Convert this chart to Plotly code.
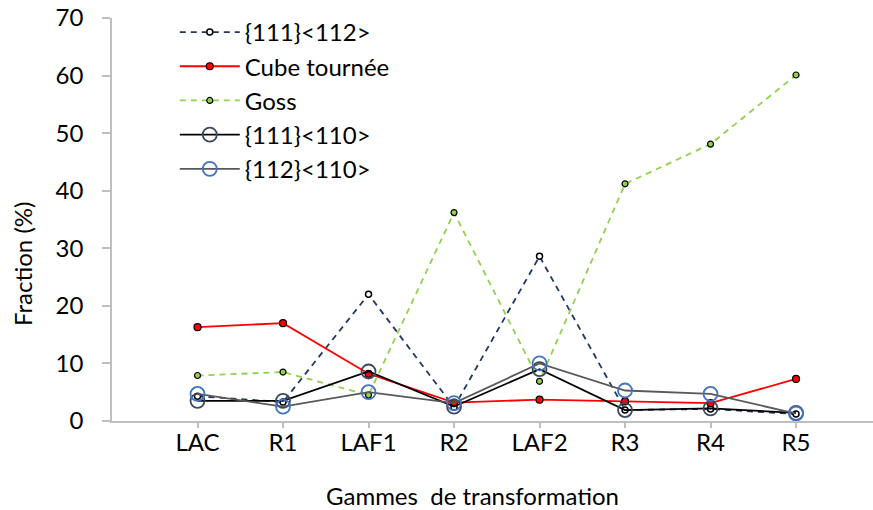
import plotly.graph_objects as go

categories = ["LAC", "R1", "LAF1", "R2", "LAF2", "R3", "R4", "R5"]
x_pos = [1, 2, 3, 4, 5, 6, 7, 8]

s111_112 = [4.3, 3.3, 22.0, 2.4, 28.6, 1.9, 2.1, 1.2]
cube_tournee = [16.3, 17.0, 8.2, 3.2, 3.7, 3.4, 3.1, 7.3]
goss = [7.9, 8.5, 4.5, 36.2, 6.9, 41.2, 48.1, 60.1]
s111_110 = [3.5, 3.5, 8.6, 2.5, 9.0, 1.9, 2.2, 1.4]
s112_110 = [4.7, 2.5, 5.0, 3.1, 10.0, 5.3, 4.7, 1.3]

FONT = "Lato"
FS = 24

fig = go.Figure()
fig.add_trace(go.Scatter(
    x=x_pos, y=s111_112, name="{111}<112>", mode="lines+markers",
    line=dict(color="#1F3864", width=1.8, dash="6px,5px"),
    marker=dict(size=6, color="white", line=dict(color="black", width=1.5)),
))
fig.add_trace(go.Scatter(
    x=x_pos, y=cube_tournee, name="Cube tournée", mode="lines+markers",
    line=dict(color="#FF0000", width=1.8),
    marker=dict(size=7, color="#FF0000", line=dict(color="black", width=1.2)),
))
fig.add_trace(go.Scatter(
    x=x_pos, y=goss, name="Goss", mode="lines+markers",
    line=dict(color="#92D050", width=1.8, dash="6px,5px"),
    marker=dict(size=6, color="#92D050", line=dict(color="black", width=1.2)),
))
fig.add_trace(go.Scatter(
    x=x_pos, y=s111_110, name="{111}<110>", mode="lines+markers",
    line=dict(color="black", width=1.8),
    marker=dict(size=14, color="rgba(0,0,0,0)", line=dict(color="#3A4A5E", width=1.8)),
))
fig.add_trace(go.Scatter(
    x=x_pos, y=s112_110, name="{112}<110>", mode="lines+markers",
    line=dict(color="#595959", width=1.8),
    marker=dict(size=14, color="rgba(0,0,0,0)", line=dict(color="#4472C4", width=1.8)),
))

fig.update_layout(
    width=873, height=510,
    margin=dict(l=112, r=0, t=18, b=89, autoexpand=False),
    paper_bgcolor="white", plot_bgcolor="white",
    font=dict(family=FONT, size=FS, color="black"),
    showlegend=True,
    legend=dict(x=0.0825, y=1.02, xanchor="left", yanchor="top",
                bgcolor="rgba(0,0,0,0)", font=dict(size=FS), itemwidth=60,
                tracegroupgap=0),
    xaxis=dict(range=[0, 8.9], tickvals=x_pos, ticktext=categories,
               showgrid=False, zeroline=False, showline=True,
               linecolor="#BFBFBF", linewidth=1.5,
               ticks="outside", ticklen=5, tickcolor="#BFBFBF", tickwidth=1.5,
               tickfont=dict(size=FS), ticklabelstandoff=-6),
    yaxis=dict(range=[0, 70], tickvals=[0, 10, 20, 30, 40, 50, 60, 70],
               showgrid=False, zeroline=False, showline=True,
               linecolor="#BFBFBF", linewidth=1.5,
               ticks="outside", ticklen=8, tickcolor="#BFBFBF", tickwidth=1.5,
               tickfont=dict(size=FS), ticklabelstandoff=14),
    annotations=[
        dict(text="Gammes  de transformation", xref="paper", yref="paper",
             x=(472 - 112) / 761, y=-(495 - 421) / 403, showarrow=False,
             xanchor="center", yanchor="middle", font=dict(size=FS)),
        dict(text="Fraction (%)", xref="paper", yref="paper",
             x=-(112 - 22) / 761, y=(421 - 264) / 403, showarrow=False,
             textangle=-90, xanchor="center", yanchor="middle", font=dict(size=FS)),
    ],
)

fig.write_html("out.html", config={"displayModeBar": False},
               post_script="document.body.style.margin='0';")
